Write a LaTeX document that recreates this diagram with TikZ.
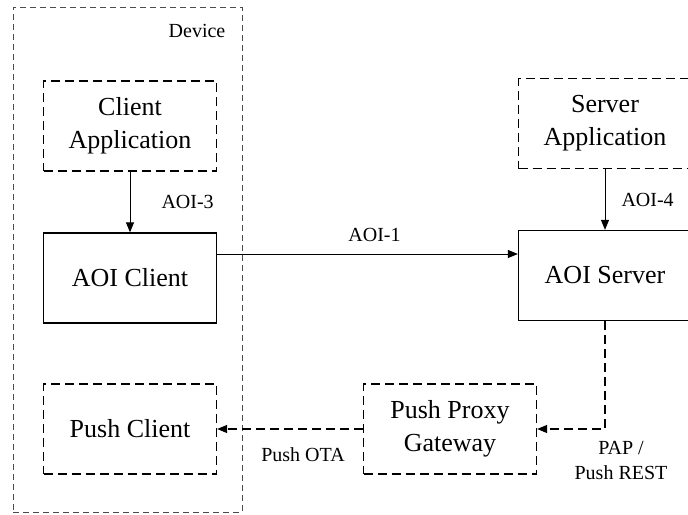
\documentclass[tikz,border=0pt]{standalone}
\usepackage{fontspec}
\setmainfont{Liberation Serif}
\usetikzlibrary{arrows.meta,positioning}

\begin{document}
\begin{tikzpicture}[x=1pt,y=-1pt,
    >={Triangle[length=10pt,width=8pt]},
    entity/.style={draw, line width=1.3pt, minimum width=173pt, minimum height=90pt,
        inner sep=0pt, align=center, font=\fontsize{26}{33}\selectfont},
    optional/.style={entity, dash pattern=on 9pt off 5pt},
    lbl/.style={inner sep=0pt, align=center, font=\fontsize{20}{25}\selectfont}
]
    \useasboundingbox (0,0) rectangle (688,514);

    % device boundary
    \node[draw=gray!60!black, dash pattern=on 6pt off 4pt, line width=0.9pt,
        minimum width=229pt, minimum height=505pt, inner sep=0pt] (dev) at (127.5,259.5) {};
    \node[lbl] (devlbl) at (197,31) {Device};

    \node[optional] (capp) at (130,126) {Client\\Application};
    \node[entity] (aoic) at (130,278) {AOI Client};
    \node[optional] (pushc) at (130,429) {Push Client};

    \node[optional] (sapp) at (605,123.5) {Server\\Application};
    \node[entity] (aois) at (605,275.5) {AOI Server};
    \node[optional] (ppg) at (450,429) {Push Proxy\\Gateway};

    \path[->, line width=1pt]
        (capp) edge node[lbl, right=31pt] {AOI-3} (aoic)
        (sapp) edge node[lbl, right=16pt] {AOI-4} (aois)
    ;
    \draw[->, line width=1pt] ([yshift=24pt]aoic.east) -- ([yshift=24pt]aoic.east -| aois.west)
        node[lbl, midway, above=12pt, xshift=7pt] {AOI-1};

    \draw[->, line width=1.3pt, dash pattern=on 9pt off 5pt] (aois.south) |- (ppg.east)
        node[lbl, pos=0.5, anchor=north, xshift=16pt, yshift=-12pt] {PAP /\\Push REST};
    \draw[->, line width=1.3pt, dash pattern=on 9pt off 5pt] (ppg) -- (pushc)
        node[lbl, midway, below=18pt, xshift=13pt] {Push OTA};
\end{tikzpicture}
\end{document}
